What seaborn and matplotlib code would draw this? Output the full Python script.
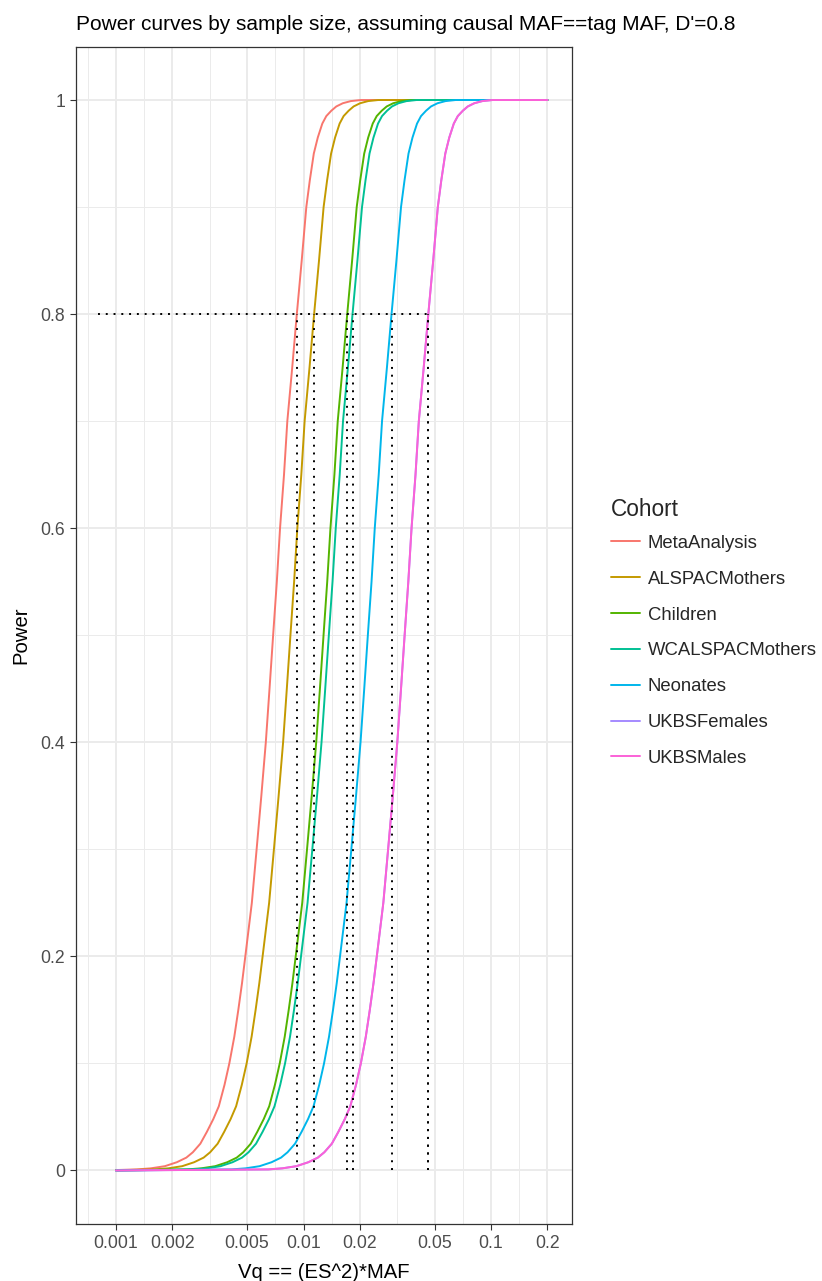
import matplotlib
matplotlib.use("Agg")
import matplotlib.pyplot as plt
from matplotlib.lines import Line2D
from matplotlib.ticker import FixedLocator, NullFormatter
import pandas as pd
import seaborn as sns

# Cohorts in plotting order and their hue colours
cohorts = ["MetaAnalysis", "ALSPACMothers", "Children", "WCALSPACMothers",
           "Neonates", "UKBSFemales", "UKBSMales"]
colors = ["#F8766D", "#C49A00", "#53B400", "#00C094", "#00B6EB", "#A58AFF", "#FB61D7"]

# Power levels along each curve, and the Vq at which each cohort reaches them
power_levels = [0.001, 0.002, 0.004, 0.0077, 0.012, 0.017, 0.025, 0.036, 0.048, 0.06,
                0.08, 0.1, 0.125, 0.15, 0.175, 0.2, 0.25, 0.3, 0.35, 0.4,
                0.45, 0.5, 0.55, 0.6, 0.65, 0.7, 0.75, 0.8, 0.85, 0.9,
                0.925, 0.95, 0.965, 0.978, 0.985, 0.99, 0.994, 0.997, 0.999, 1.0]

vq_meta = [0.001291, 0.001533, 0.001821, 0.002110, 0.002371, 0.002568, 0.002816, 0.003050,
           0.003303, 0.003534, 0.003790, 0.004021, 0.004275, 0.004490, 0.004699, 0.004893,
           0.005301, 0.005622, 0.005957, 0.006294, 0.006587, 0.006886, 0.007205, 0.007496,
           0.007870, 0.008197, 0.008704, 0.009211, 0.009781, 0.010349, 0.010804, 0.011347,
           0.011918, 0.012598, 0.013231, 0.014071, 0.014962, 0.016205, 0.017876, 0.020213]
vq_alspac_mothers = [0.001597, 0.001896, 0.002252, 0.002609, 0.002932, 0.003176, 0.003483,
                     0.003772, 0.004085, 0.004371, 0.004687, 0.004973, 0.005287, 0.005553,
                     0.005811, 0.006051, 0.006556, 0.006953, 0.007367, 0.007784, 0.008146,
                     0.008516, 0.008910, 0.009270, 0.009733, 0.010137, 0.010764, 0.011391,
                     0.012096, 0.012799, 0.013361, 0.014033, 0.014739, 0.015580, 0.016363,
                     0.017402, 0.018504, 0.020041, 0.022107, 0.024997]
vq_children = [0.002398, 0.002847, 0.003382, 0.003918, 0.004403, 0.004769, 0.005230,
               0.005664, 0.006134, 0.006563, 0.007038, 0.007467, 0.007939, 0.008338,
               0.008727, 0.009087, 0.009845, 0.010441, 0.011063, 0.011689, 0.012233,
               0.012788, 0.013380, 0.013921, 0.014615, 0.015223, 0.016164, 0.017106,
               0.018164, 0.019219, 0.020064, 0.021073, 0.022133, 0.023396, 0.024571,
               0.026131, 0.027786, 0.030094, 0.033197, 0.037538]
vq_wc_alspac_mothers = [0.002559, 0.003038, 0.003609, 0.004182, 0.004699, 0.005090, 0.005581,
                        0.006045, 0.006547, 0.007004, 0.007512, 0.007970, 0.008473, 0.008899,
                        0.009313, 0.009698, 0.010507, 0.011143, 0.011807, 0.012475, 0.013055,
                        0.013648, 0.014280, 0.014857, 0.015598, 0.016246, 0.017251, 0.018256,
                        0.019386, 0.020512, 0.021414, 0.022490, 0.023621, 0.024969, 0.026224,
                        0.027889, 0.029655, 0.032118, 0.035430, 0.040062]
vq_neonates = [0.004131, 0.004906, 0.005827, 0.006752, 0.007587, 0.008218, 0.009011,
               0.009760, 0.010570, 0.011309, 0.012128, 0.012867, 0.013680, 0.014368,
               0.015037, 0.015658, 0.016963, 0.017990, 0.019062, 0.020141, 0.021078,
               0.022035, 0.023056, 0.023987, 0.025184, 0.026230, 0.027853, 0.029475,
               0.031299, 0.033117, 0.034573, 0.036310, 0.038138, 0.040314, 0.042339,
               0.045027, 0.047878, 0.051856, 0.057203, 0.064682]
vq_ukbs_females = [0.006490, 0.007707, 0.009155, 0.010608, 0.011920, 0.012910, 0.014157,
                   0.015334, 0.016606, 0.017767, 0.019054, 0.020215, 0.021492, 0.022573,
                   0.023624, 0.024599, 0.026650, 0.028264, 0.029948, 0.031642, 0.033115,
                   0.034619, 0.036222, 0.037685, 0.039566, 0.041210, 0.043758, 0.046307,
                   0.049173, 0.052029, 0.054316, 0.057046, 0.059917, 0.063335, 0.066518,
                   0.070741, 0.075220, 0.081469, 0.089870, 0.101619]
vq_ukbs_males = [0.006490, 0.007707, 0.009155, 0.010608, 0.011920, 0.012910, 0.014157,
                 0.015334, 0.016606, 0.017767, 0.019054, 0.020215, 0.021492, 0.022573,
                 0.023624, 0.024599, 0.026650, 0.028264, 0.029948, 0.031642, 0.033115,
                 0.034619, 0.036222, 0.037685, 0.039566, 0.041210, 0.043758, 0.046307,
                 0.049173, 0.052029, 0.054316, 0.057046, 0.059917, 0.063335, 0.066518,
                 0.070741, 0.075220, 0.081469, 0.089870, 0.101619]

# Ends of the Vq grid
vq_min, vq_max = 0.001, 0.2
power_at_vq_min = [0.0004, 0.0002, 0.0, 0.0, 0.0, 0.0, 0.0]
power_at_vq_max = [1.0, 1.0, 1.0, 1.0, 1.0, 1.0, 1.0]

target_power = 0.8
hline_start = 0.0008

x_breaks = [0.001, 0.002, 0.005, 0.01, 0.02, 0.05, 0.1, 0.2]
x_labels = ["0.001", "0.002", "0.005", "0.01", "0.02", "0.05", "0.1", "0.2"]
x_minor = [0.000707, 0.001414, 0.003162, 0.007071, 0.01414, 0.03162, 0.07071, 0.1414]
y_breaks = [0, 0.2, 0.4, 0.6, 0.8, 1.0]
y_labels = ["0", "0.2", "0.4", "0.6", "0.8", "1"]
y_minor = [0.1, 0.3, 0.5, 0.7, 0.9]

vq_by_cohort = [vq_meta, vq_alspac_mothers, vq_children, vq_wc_alspac_mothers,
                vq_neonates, vq_ukbs_females, vq_ukbs_males]

rows = []
for name, vqs, p_lo, p_hi in zip(cohorts, vq_by_cohort, power_at_vq_min, power_at_vq_max):
    rows.append((name, vq_min, p_lo))
    rows.extend((name, v, p) for v, p in zip(vqs, power_levels))
    rows.append((name, vq_max, p_hi))
df = pd.DataFrame(rows, columns=["Cohort", "Vq", "Power"])

sns.set_style("ticks")
plt.rcParams["font.family"] = ["Liberation Sans", "DejaVu Sans"]

fig = plt.figure(figsize=(8.22, 12.81), dpi=100)
ax = fig.add_axes([76 / 822, 57 / 1281, 496 / 822, 1177.5 / 1281])

palette = dict(zip(cohorts, colors))
sns.lineplot(data=df, x="Vq", y="Power", hue="Cohort", hue_order=cohorts,
             palette=palette, estimator=None, sort=True, legend=False,
             linewidth=1.4, ax=ax, zorder=3)

# Dotted guides at the target power
dot_style = (0, (1.0, 3.0))
idx80 = power_levels.index(target_power)
vq80 = [v[idx80] for v in vq_by_cohort]
ax.plot([hline_start, max(vq80)], [target_power, target_power], color="black",
        lw=1.4, linestyle=dot_style, zorder=4)
for v in vq80:
    ax.plot([v, v], [0, target_power], color="black", lw=1.4,
            linestyle=dot_style, zorder=4)

ax.set_xscale("log")
ax.set_xlim(0.0006117, 0.2704)
ax.set_ylim(-0.05, 1.05)
ax.set_xticks(x_breaks)
ax.set_xticklabels(x_labels)
ax.xaxis.set_minor_locator(FixedLocator(x_minor))
ax.xaxis.set_minor_formatter(NullFormatter())
ax.set_yticks(y_breaks)
ax.set_yticklabels(y_labels)
ax.yaxis.set_minor_locator(FixedLocator(y_minor))

ax.set_axisbelow(True)
ax.grid(which="major", color="#EBEBEB", lw=1.4)
ax.grid(which="minor", color="#EBEBEB", lw=0.7)
for s in ax.spines.values():
    s.set_visible(True)
    s.set_color("#333333")
    s.set_linewidth(0.9)
ax.tick_params(which="major", length=4.3, width=0.8, color="#333333",
               labelcolor="#4D4D4D", labelsize=12.7, pad=3.5)
ax.tick_params(which="minor", length=0)

ax.set_xlabel("Vq == (ES^2)*MAF", fontsize=14.6, color="black")
ax.xaxis.set_label_coords(0.5, -(1277.5 - 1224) / 1177.5)
ax.xaxis.label.set_va("baseline")
ax.set_ylabel("Power", fontsize=14.6, color="black")
ax.yaxis.set_label_coords((20.5 - 76) / 496, 0.5)
ax.yaxis.label.set_va("center")

fig.text(76 / 822, 1 - 29.5 / 1281,
         "Power curves by sample size, assuming causal MAF==tag MAF, D'=0.8",
         fontsize=15.0, color="black", ha="left", va="baseline")

handles = [Line2D([], [], color=c, lw=1.4) for c in colors]
leg = ax.legend(handles, cohorts, title="Cohort", loc="upper left",
                bbox_to_anchor=(610.5 / 822, 1 - 498 / 1281),
                bbox_transform=fig.transFigure, frameon=False,
                fontsize=13.3, title_fontsize=16.3, handlelength=1.57,
                handletextpad=0.46, labelspacing=1.02, borderpad=0,
                borderaxespad=0, alignment="left")
# tighter gap between the legend title and its first key
leg._legend_box.sep = 9.97

fig.savefig("out.png", dpi=100)
